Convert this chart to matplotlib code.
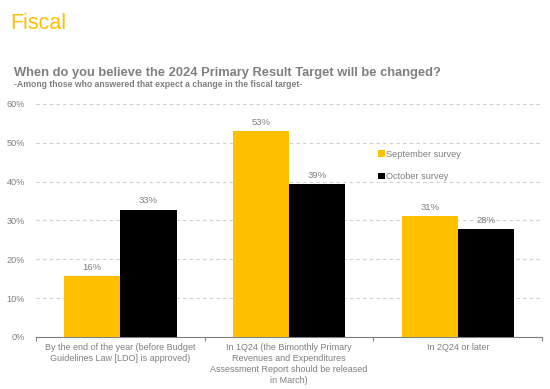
import matplotlib
matplotlib.use("Agg")
import matplotlib.pyplot as plt
import numpy as np

plt.rcParams['font.family'] = ['Liberation Sans', 'DejaVu Sans']

# data
categories = ["By the end of the year (before Budget\nGuidelines Law [LDO] is approved)",
              "In 1Q24 (the Bimonthly Primary\nRevenues and Expenditures\nAssessment Report should be released\nin March)",
              "In 2Q24 or later"]
september = [15.6, 53.1, 31.2]
october = [32.8, 39.4, 27.8]
sep_labels = ["16%", "53%", "31%"]
oct_labels = ["33%", "39%", "28%"]
yticks = [0, 10, 20, 30, 40, 50, 60]

yellow = "#FFC000"
gray = "#7F7F7F"

fig = plt.figure(figsize=(5.5, 3.89), dpi=100)
ax = fig.add_axes([0.0655, 0.1337, 0.92, 0.599])

x = np.arange(len(categories))
w = 0.333
b1 = ax.bar(x - w/2, september, w, color=yellow, label="September survey", zorder=3)
b2 = ax.bar(x + w/2, october, w, color="black", label="October survey", zorder=3)

for bar, lab in zip(b1, sep_labels):
    ax.text(bar.get_x() + bar.get_width()/2, bar.get_height() + 1.1, lab,
            ha="center", va="bottom", fontsize=6.8, color=gray)
for bar, lab in zip(b2, oct_labels):
    ax.text(bar.get_x() + bar.get_width()/2, bar.get_height() + 1.1, lab,
            ha="center", va="bottom", fontsize=6.8, color=gray)

ax.set_xlim(-0.5, 2.5)
ax.set_ylim(0, 60)
ax.set_yticks(yticks)
ax.set_yticklabels([f"{t}%" for t in yticks], fontsize=6.6, color=gray)
ax.yaxis.grid(True, linestyle=(0, (3, 3)), color="#D0D0D0", linewidth=0.8, zorder=0)
ax.tick_params(axis="y", length=0, pad=8)

ax.set_xticks([-0.5, 0.5, 1.5, 2.5])
ax.set_xticklabels([])
ax.tick_params(axis="x", length=3, color=gray, direction="out")
for xi, cat in zip(x, categories):
    ax.text(xi, -1.5, cat, ha="center", va="top", fontsize=6.5, color=gray,
            linespacing=1.3)

for s in ["top", "right", "left"]:
    ax.spines[s].set_visible(False)
ax.spines["bottom"].set_color(gray)
ax.spines["bottom"].set_linewidth(0.8)

ax.legend(loc="upper left", bbox_to_anchor=(0.66, 0.84), frameon=False,
          fontsize=6.6, labelcolor=gray, handlelength=0.7, handleheight=0.7,
          handletextpad=0.2, labelspacing=1.5)

fig.text(0.018, 0.925, "Fiscal", fontsize=15.5, color=yellow, va="baseline")
fig.text(0.025, 0.805, "When do you believe the 2024 Primary Result Target will be changed?",
         fontsize=9.3, color=gray, fontweight="bold", va="baseline")
fig.text(0.025, 0.777, "-Among those who answered that expect a change in the fiscal target-",
         fontsize=6.2, color=gray, fontweight="bold", va="baseline")

fig.savefig("out.png", dpi=100)
